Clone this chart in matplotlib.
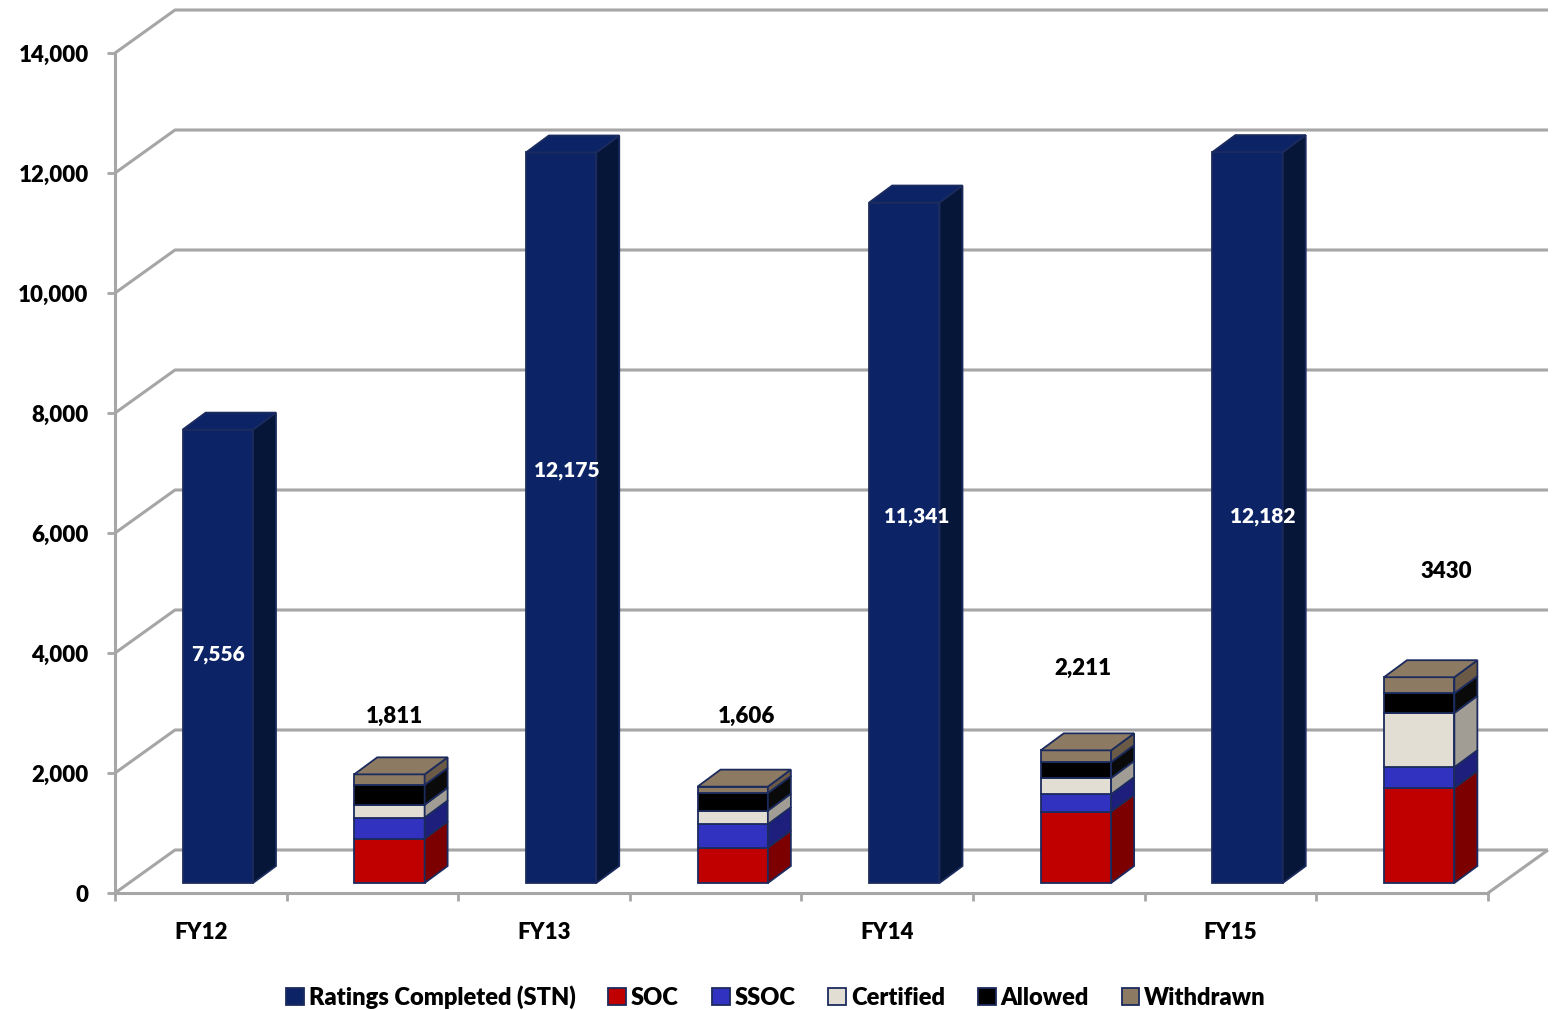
import matplotlib.pyplot as plt
import matplotlib.transforms as mtransforms
from matplotlib.patches import Polygon, Patch

years = ['FY12', 'FY13', 'FY14', 'FY15']
ratings = [7556, 12175, 11341, 12182]
soc = [740, 590, 1190, 1585]
ssoc = [350, 390, 290, 345]
certified = [215, 225, 270, 905]
allowed = [330, 295, 265, 328]
withdrawn = [176, 106, 196, 267]
total_labels = ['1,811', '1,606', '2,211', '3430']

# label anchor points (x in slot units, y in value units)
rating_label_x = [0.60, 2.63, 4.67, 6.69]
rating_label_y = [3970, 7050, 6280, 6270]
total_label_x = [1.63, 3.68, 5.64, 7.76]
total_label_y = [2950, 2950, 3750, 5350]

names = ['Ratings Completed (STN)', 'SOC', 'SSOC', 'Certified', 'Allowed', 'Withdrawn']
front = ['#0c2466', '#c00000', '#3232c0', '#e3ded3', '#000000', '#8c7a62']
side = ['#061639', '#7c0000', '#1e1e7c', '#a19d94', '#0a0a0a', '#6a5a46']
EDGE = '#1c2b5e'
GRID = '#a6a6a6'
FONT = dict(family='Lato', fontweight='heavy')

plt.rcParams['font.family'] = 'Lato'

DPI = 100
fig = plt.figure(figsize=(15.52, 10.10), dpi=DPI)
ax = fig.add_axes([115 / 1552, 117 / 1010, 1373 / 1552, 840 / 1010])
ax.set_xlim(0, 8)
ax.set_ylim(0, 14000)

# pixel scale of the front plane
sx = 1373 / 8
sy = 840 / 14000
WX, WY = 60 / sx, 43 / sy      # back wall offset
BX, BY = 23 / sx, 17 / sy      # bar depth
W = 0.41

# walls and floor
gl = dict(color=GRID, lw=2.2, clip_on=False, zorder=1, solid_capstyle='butt')
for v in range(0, 14001, 2000):
    ax.plot([0, WX, 8 + WX], [v, v + WY, v + WY], **gl)
ax.plot([8, 8 + WX], [0, WY], **gl)

for s in ['top', 'right']:
    ax.spines[s].set_visible(False)
for s in ['left', 'bottom']:
    ax.spines[s].set_color(GRID)
    ax.spines[s].set_linewidth(2.2)

ax.set_yticks(range(0, 14001, 2000))
ax.set_yticklabels([f'{v:,}' for v in range(0, 14001, 2000)], fontsize=16, **FONT)
ax.tick_params(axis='y', length=6, width=2, color=GRID, pad=13)
ax.set_xticks(range(9))
ax.set_xticklabels([])
ax.tick_params(axis='x', which='major', length=6, width=2, color=GRID)
ax.set_xticks([0.5, 2.5, 4.5, 6.5], minor=True)
ax.set_xticklabels(years, minor=True, fontsize=16, **FONT)
ax.tick_params(axis='x', which='minor', length=0, pad=21)

# bars sit a little behind the front plane
shift = ax.transData + mtransforms.ScaledTranslation(17 / DPI, 10 / DPI, fig.dpi_scale_trans)


def draw_boxes(xs, bottoms, heights, k, top_face):
    bars = ax.bar(xs, heights, W, bottom=bottoms, color=front[k],
                  edgecolor=EDGE, lw=1.3, zorder=3)
    for p in bars.patches:
        p.set_transform(shift)
    for x, b, h in zip(xs, bottoms, heights):
        x0, x1, y0, y1 = x - W / 2, x + W / 2, b, b + h
        ax.add_patch(Polygon([(x1, y0), (x1 + BX, y0 + BY), (x1 + BX, y1 + BY), (x1, y1)],
                             closed=True, fc=side[k], ec=EDGE, lw=1.3,
                             transform=shift, zorder=3, clip_on=False))
        if top_face:
            ax.add_patch(Polygon([(x0, y1), (x0 + BX, y1 + BY), (x1 + BX, y1 + BY), (x1, y1)],
                                 closed=True, fc=front[k], ec=EDGE, lw=1.3,
                                 transform=shift, zorder=3, clip_on=False))


xr = [2 * i + 0.5 for i in range(4)]
xs = [2 * i + 1.5 for i in range(4)]
draw_boxes(xr, [0] * 4, ratings, 0, True)

stack = [soc, ssoc, certified, allowed, withdrawn]
base = [0] * 4
for k, vals in enumerate(stack, start=1):
    draw_boxes(xs, base, vals, k, k == len(stack))
    base = [b + v for b, v in zip(base, vals)]

for x, y, v in zip(rating_label_x, rating_label_y, ratings):
    ax.text(x, y, f'{v:,}', color='white', fontsize=15, ha='center', va='center',
            zorder=5, **FONT)
for x, y, t in zip(total_label_x, total_label_y, total_labels):
    ax.text(x, y, t, color='black', fontsize=16, ha='center', va='center',
            zorder=5, **FONT)

handles = [Patch(facecolor=c, edgecolor=EDGE, lw=1.3) for c in front]
fig.legend(handles, names, loc='lower center', bbox_to_anchor=(0.5, -0.02), ncol=6,
           frameon=False, prop=dict(family='Lato', size=17, weight='heavy'),
           handlelength=0.75, handleheight=0.75, handletextpad=0.2, columnspacing=1.4)

fig.savefig('out.png', dpi=DPI)
